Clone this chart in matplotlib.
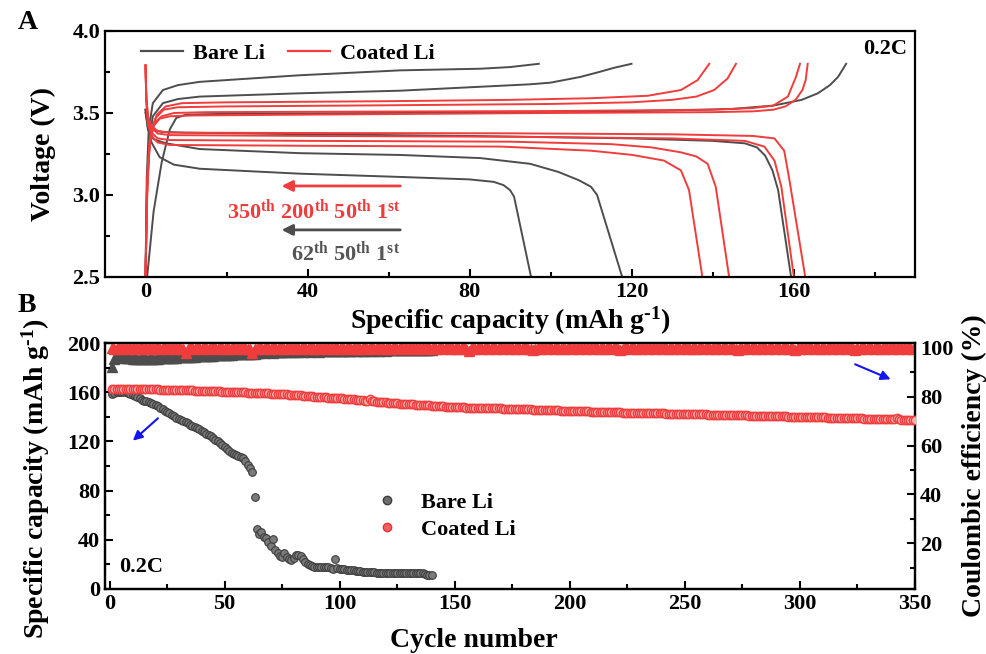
import numpy as np
import matplotlib

matplotlib.use("Agg")
import matplotlib.pyplot as plt
from matplotlib.lines import Line2D
from matplotlib.ticker import MultipleLocator

plt.rcParams["font.family"] = ["Liberation Serif", "DejaVu Serif"]
plt.rcParams["font.weight"] = "bold"
plt.rcParams["axes.labelweight"] = "bold"
plt.rcParams["mathtext.fontset"] = "custom"
plt.rcParams["mathtext.rm"] = "Liberation Serif:bold"
plt.rcParams["mathtext.bf"] = "Liberation Serif:bold"
plt.rcParams["mathtext.it"] = "Liberation Serif:italic:bold"

GRAY = "#4d4d4d"
RED = "#f03c3c"
BLUE = "#1414f0"

# ---- panel A: charge / discharge profiles, (capacity mAh/g, voltage V) ----
BARE_1_CHG = [(0.4, 2.5), (2.0, 2.9), (4.0, 3.2), (6.0, 3.40), (7.6, 3.47), (10, 3.49), (20, 3.495),
              (60, 3.50), (100, 3.505), (130, 3.515), (145, 3.525), (155, 3.545), (162, 3.58),
              (166, 3.62), (169, 3.67), (171, 3.72), (173, 3.8)]
BARE_1_DIS = [(0, 3.50), (0.5, 3.44), (1.5, 3.40), (4, 3.385), (10, 3.38), (40, 3.37), (80, 3.36),
              (120, 3.345), (140, 3.33), (148, 3.315), (151, 3.29), (153, 3.24), (154.8, 3.15),
              (156.2, 3.03), (159.4, 2.5)]
BARE_50_CHG = [(0, 2.5), (0.3, 3.0), (0.8, 3.3), (1.8, 3.48), (4.3, 3.56), (8, 3.585), (13.4, 3.60),
               (38, 3.62), (62.9, 3.636), (82.7, 3.66), (95, 3.675), (100, 3.685), (107.4, 3.72),
               (112, 3.75), (115.6, 3.775), (120, 3.8)]
BARE_50_DIS = [(0, 3.52), (0.6, 3.40), (2, 3.34), (5.1, 3.315), (13.4, 3.28), (38, 3.255),
               (62.9, 3.244), (82.7, 3.225), (95, 3.19), (102, 3.14), (107, 3.09), (110, 3.05),
               (111.5, 3.0), (117.7, 2.5)]
BARE_62_CHG = [(0, 2.5), (0.3, 3.1), (0.8, 3.4), (1.8, 3.56), (4.3, 3.64), (8, 3.67), (13.4, 3.69),
               (38, 3.73), (62.9, 3.76), (82.7, 3.77), (90, 3.78), (97.1, 3.8)]
BARE_62_DIS = [(0, 3.52), (0.5, 3.42), (1.5, 3.32), (3.5, 3.23), (7, 3.185), (13.4, 3.16),
               (38, 3.13), (62.9, 3.11), (80, 3.095), (86, 3.08), (88.4, 3.06), (90, 3.03),
               (91, 2.99), (95.2, 2.5)]

COAT_1_CHG = [(0, 2.5), (0.4, 3.0), (1.0, 3.3), (2.0, 3.42), (3.5, 3.465), (6, 3.48), (12, 3.485),
              (40, 3.49), (100, 3.50), (140, 3.505), (150, 3.51), (155, 3.52), (158, 3.54),
              (160.5, 3.58), (162.2, 3.64), (163, 3.7), (163.5, 3.8)]
COAT_50_CHG = [(0, 2.5), (0.4, 3.05), (1.0, 3.33), (2.2, 3.44), (4, 3.48), (7, 3.50), (15, 3.505),
               (50, 3.508), (100, 3.512), (140, 3.52), (150, 3.53), (155, 3.545), (158.6, 3.6),
               (160.6, 3.72), (161.6, 3.8)]
COAT_200_CHG = [(0, 2.5), (0.5, 3.1), (1.2, 3.36), (2.5, 3.47), (4.5, 3.52), (8, 3.535), (20, 3.54),
                (60, 3.547), (100, 3.555), (120, 3.565), (130, 3.58), (136, 3.60), (140.4, 3.64),
                (143.7, 3.71), (145.8, 3.8)]
COAT_350_CHG = [(0, 2.5), (0.5, 3.15), (1.3, 3.38), (2.8, 3.49), (5, 3.54), (9, 3.56), (20, 3.565),
                (60, 3.572), (90, 3.58), (110, 3.59), (124, 3.605), (132.2, 3.64), (136.3, 3.70),
                (139.2, 3.8)]
COAT_1_DIS = [(0, 3.79), (0.2, 3.6), (0.6, 3.48), (1.5, 3.42), (3, 3.39), (6, 3.38), (40, 3.378),
              (90, 3.376), (130, 3.37), (150, 3.36), (155.3, 3.345), (157.7, 3.27), (159, 3.09),
              (162.9, 2.5)]
COAT_50_DIS = [(0, 3.79), (0.2, 3.6), (0.6, 3.47), (1.5, 3.41), (3, 3.375), (6, 3.365), (40, 3.36),
               (90, 3.355), (130, 3.345), (148, 3.33), (152.8, 3.295), (155.3, 3.21), (157, 3.05),
               (160.1, 2.5)]
COAT_200_DIS = [(0, 3.79), (0.2, 3.58), (0.6, 3.45), (1.5, 3.38), (3, 3.345), (6, 3.335), (40, 3.33),
                (90, 3.325), (115, 3.31), (125, 3.29), (132.2, 3.26), (136, 3.235), (138.8, 3.19),
                (140.8, 3.05), (144.1, 2.5)]
COAT_350_DIS = [(0, 3.79), (0.2, 3.57), (0.6, 3.43), (1.5, 3.36), (3, 3.32), (6, 3.305), (40, 3.30),
                (88, 3.295), (110, 3.27), (120, 3.245), (128, 3.21), (132.2, 3.15), (134.2, 3.03),
                (137.5, 2.5)]

BARE_CURVES = [BARE_1_CHG, BARE_1_DIS, BARE_50_CHG, BARE_50_DIS, BARE_62_CHG, BARE_62_DIS]
COAT_CURVES = [COAT_1_CHG, COAT_50_CHG, COAT_200_CHG, COAT_350_CHG,
               COAT_1_DIS, COAT_50_DIS, COAT_200_DIS, COAT_350_DIS]

# ---- panel B: cycling, one value per cycle ----
bare_capacity = [
    158.5, 159.0, 160.0, 160.5, 160.5, 160.3, 160.0, 159.5, 158.8, 158.0,
    157.0, 156.0, 155.0, 154.0, 153.0, 152.5, 151.8, 151.0, 150.2, 149.5,
    148.4, 147.3, 146.2, 145.0, 143.8, 142.7, 141.5, 140.3, 139.2, 138.2,
    137.3, 136.4, 135.5, 134.6, 133.7, 132.8, 131.8, 130.8, 129.8, 128.8,
    127.6, 126.4, 125.2, 124.0, 122.7, 121.4, 120.0, 118.6, 117.2, 115.8,
    114.0, 112.0, 110.5, 109.5, 108.8, 108.2, 107.5, 106.5, 104.0, 101.0,
    98.0, 95.0, 74.5, 48.5, 45.0, 46.0, 42.0, 41.5, 38.0, 35.0,
    41.0, 32.0, 29.0, 27.0, 26.0, 29.0, 26.0, 24.5, 23.5, 25.0,
    28.0, 27.5, 26.5, 24.0, 22.0, 20.5, 19.5, 18.5, 18.0, 17.5,
    18.0, 18.0, 17.5, 18.0, 17.5, 17.0, 16.5, 24.5, 17.0, 16.0,
    16.5, 16.0, 15.8, 15.5, 15.5, 15.2, 15.0, 15.0, 14.5, 14.2,
    14.0, 14.0, 13.8, 13.5, 13.5, 13.3, 13.2, 13.0, 13.0, 13.2,
    13.0, 13.0, 12.8, 12.8, 13.0, 12.8, 12.8, 12.6, 13.0, 13.2,
    13.4, 13.0, 13.0, 13.2, 13.0, 12.8, 12.0, 11.5, 11.2, 11.0,
]
bare_ce = [
    92.3, 95.4, 96.2, 96.3, 96.2, 96.0, 95.9, 95.8, 95.7, 95.6, 95.6, 95.5, 95.5, 95.5, 95.4,
    95.4, 95.5, 95.5, 95.5, 95.6, 95.6, 95.7, 95.7, 95.8, 95.8, 95.9, 95.9, 96.0, 96.0, 96.1,
    96.1, 96.2, 96.2, 96.3, 96.3, 96.4, 96.4, 96.5, 96.5, 96.6, 96.6, 96.7, 96.7, 96.8, 96.8,
    96.9, 96.9, 97.0, 97.0, 97.1, 97.1, 97.2, 97.2, 97.3, 97.3, 97.4, 97.4, 97.5, 97.5, 97.6,
    97.6, 97.7, 97.5, 97.8, 98.0, 98.2, 98.0, 98.3, 98.2, 98.4, 98.1, 98.3, 98.5, 98.2, 98.4,
    98.5, 98.3, 98.6, 98.4, 98.5, 98.7, 98.4, 98.6, 98.5, 98.7, 98.6, 98.5, 98.8, 98.6, 98.7,
    98.5, 98.8, 98.6, 98.7, 98.9, 98.6, 98.8, 98.7, 98.9, 98.7, 98.8, 98.9, 98.7, 98.9, 98.8,
    99.0, 98.8, 98.9, 99.0, 98.8, 98.9, 99.0, 98.9, 99.0, 98.9, 99.1, 98.9, 99.0, 99.1, 98.9,
    99.0, 99.1, 99.0, 99.1, 99.0, 99.1, 99.0, 99.1, 99.0, 99.2, 99.1, 99.0, 99.2, 99.1, 99.2,
    99.1, 99.0, 99.2, 99.1, 99.2,
]
coated_capacity = [
    162.6, 162.8, 162.9, 162.9, 162.8, 162.8, 162.7, 162.7, 162.7, 162.6, 162.6, 162.6, 162.5,
    162.5, 162.5, 162.4, 162.4, 162.4, 162.3, 162.3, 162.3, 162.2, 162.2, 162.1, 162.1,
    162.0, 162.0, 161.9, 161.8, 161.8, 161.7, 161.6, 161.6, 161.5, 161.4, 161.4, 161.3, 161.2,
    161.2, 161.1, 161.0, 161.0, 160.9, 160.8, 160.8, 160.7, 160.6, 160.6, 160.5, 160.5,
    160.4, 160.3, 160.2, 160.2, 160.1, 160.0, 159.9, 159.8, 159.8, 159.7, 159.6, 159.5, 159.4,
    159.4, 159.3, 159.2, 159.1, 159.0, 159.0, 158.9, 158.8, 158.7, 158.6, 158.6, 158.5,
    158.4, 158.2, 158.1, 157.9, 157.8, 157.7, 157.5, 157.4, 157.2, 157.1, 157.0, 156.8, 156.7,
    156.5, 156.4, 156.3, 156.1, 156.0, 155.8, 155.7, 155.6, 155.4, 155.3, 155.1, 155.3,
    154.9, 154.7, 154.6, 154.4, 154.2, 154.1, 153.9, 153.7, 153.6, 153.4, 153.2, 153.1, 154.5,
    152.8, 152.6, 152.4, 152.3, 152.1, 151.9, 151.8, 151.6, 151.4, 151.3, 151.1, 150.9,
    150.8, 150.7, 150.6, 150.4, 150.3, 150.2, 150.1, 149.9, 149.8, 149.7, 149.6, 149.4, 149.3,
    149.2, 149.1, 148.9, 148.8, 148.7, 148.6, 148.4, 148.3, 148.2, 148.1, 147.9, 147.8,
    147.7, 147.7, 147.6, 147.6, 147.5, 147.5, 147.4, 147.4, 147.3, 147.3, 147.2, 147.2, 147.1,
    147.1, 147.0, 147.0, 146.9, 146.9, 146.8, 146.8, 146.7, 146.7, 146.6, 146.6, 146.5,
    146.4, 146.4, 146.3, 146.2, 146.2, 146.1, 146.0, 146.0, 145.9, 145.8, 145.8, 145.7, 145.6,
    145.6, 145.5, 145.4, 145.4, 145.3, 145.2, 145.2, 145.1, 145.0, 145.0, 144.9, 144.9,
    144.8, 144.7, 144.7, 144.6, 144.6, 144.5, 144.4, 144.4, 144.3, 144.3, 144.2, 144.1, 144.1,
    144.0, 144.0, 143.9, 143.8, 143.8, 143.7, 143.7, 143.6, 143.6, 143.5, 143.5, 143.4,
    143.4, 143.3, 143.3, 143.2, 143.2, 143.1, 143.1, 143.0, 143.0, 142.9, 142.9, 142.9, 142.8,
    142.8, 142.7, 142.7, 142.6, 142.6, 142.5, 142.5, 142.4, 142.4, 142.4, 142.3, 142.3,
    142.2, 142.2, 142.1, 142.1, 142.0, 142.0, 141.9, 141.9, 141.9, 141.8, 141.8, 141.7, 141.7,
    141.6, 141.6, 141.6, 141.5, 141.5, 141.4, 141.4, 141.3, 141.3, 141.3, 141.2, 141.2,
    141.1, 141.1, 141.0, 141.0, 140.9, 140.9, 140.8, 140.8, 140.8, 140.7, 140.7, 140.6, 140.6,
    140.5, 140.5, 140.4, 140.4, 140.3, 140.3, 140.2, 140.2, 140.1, 140.1, 140.0, 140.0,
    139.9, 139.9, 139.8, 139.8, 139.7, 139.7, 139.6, 139.6, 139.5, 139.5, 139.5, 139.4, 139.4,
    139.3, 139.3, 139.2, 139.2, 139.1, 139.1, 139.0, 139.0, 138.9, 138.9, 138.8, 138.8,
    138.7, 138.7, 138.6, 138.6, 138.5, 138.5, 138.4, 138.4, 138.3, 138.3, 138.2, 138.2, 138.1,
    138.1, 138.0, 138.0, 138.9, 137.9, 137.8, 137.8, 137.7, 137.7, 137.6, 137.6, 137.5,
]
coated_ce = [
    100.0, 99.6, 99.7, 99.8, 99.7, 99.8, 99.8, 99.7, 99.8, 99.8, 99.7, 99.8, 99.8, 99.8, 99.7,
    99.8, 99.8, 99.7, 99.8, 99.8, 99.8, 99.7, 99.8, 99.8, 99.7, 99.8, 99.8, 99.7, 99.8, 99.8,
    99.7, 99.6, 98.0, 99.6, 99.8, 99.8, 99.7, 99.8, 99.8, 99.7, 99.8, 99.8, 99.7, 99.8, 99.8,
    99.8, 99.7, 99.8, 99.8, 99.7, 99.8, 99.7, 99.8, 99.8, 99.7, 99.8, 99.8, 99.7, 99.8, 99.7,
    99.6, 97.9, 99.5, 99.7, 99.8, 99.8, 99.7, 99.8, 99.8, 99.7, 99.8, 99.8, 99.7, 99.8, 99.8,
    99.7, 99.8, 99.7, 99.8, 99.8, 99.6, 99.8, 99.7, 99.8, 99.8, 99.7, 99.8, 99.8, 99.7, 99.8,
    99.7, 99.8, 99.8, 99.7, 99.8, 99.8, 99.7, 99.8, 99.8, 99.6, 99.8, 99.7, 99.8, 99.8, 99.7,
    99.8, 99.5, 99.8, 99.7, 99.8, 99.8, 99.7, 99.8, 99.8, 99.7, 99.8, 99.8, 99.7, 99.8, 99.6,
    99.8, 99.7, 99.8, 99.8, 99.7, 99.8, 99.8, 99.7, 99.8, 99.8, 99.7, 99.8, 99.8, 99.7, 99.8,
    99.8, 99.7, 99.8, 99.8, 99.7, 99.8, 99.7, 99.8, 99.8, 99.7, 99.8, 99.8, 99.7, 99.8, 99.7,
    99.8, 99.7, 99.8, 99.8, 99.6, 98.9, 99.5, 99.8, 99.7, 99.8, 99.8, 99.7, 99.8, 99.8, 99.7,
    99.8, 99.8, 99.7, 99.8, 99.8, 99.7, 99.8, 99.8, 99.7, 99.8, 99.7, 99.8, 99.8, 99.7, 99.8,
    99.8, 99.7, 99.6, 99.1, 99.6, 99.8, 99.7, 99.8, 99.8, 99.7, 99.8, 99.8, 99.7, 99.8, 99.8,
    99.7, 99.8, 99.7, 99.8, 99.8, 99.7, 99.8, 99.8, 99.7, 99.8, 99.8, 99.7, 99.8, 99.8, 99.7,
    99.8, 99.8, 99.7, 99.8, 99.7, 99.8, 99.8, 99.7, 99.8, 99.8, 99.6, 99.1, 99.6, 99.8, 99.8,
    99.7, 99.8, 99.8, 99.7, 99.8, 99.7, 99.8, 99.8, 99.7, 99.8, 99.8, 99.7, 99.8, 99.8, 99.7,
    99.8, 99.8, 99.7, 99.8, 99.7, 99.8, 99.8, 99.7, 99.8, 99.8, 99.7, 99.8, 99.6, 99.8, 99.7,
    99.8, 99.8, 99.7, 99.8, 99.8, 99.7, 99.8, 99.7, 99.8, 99.8, 99.7, 99.8, 99.8, 99.7, 99.8,
    99.8, 99.7, 99.3, 99.8, 99.7, 99.8, 99.8, 99.7, 99.8, 99.8, 99.7, 99.8, 99.7, 99.8, 99.8,
    99.7, 99.8, 99.8, 99.7, 99.8, 99.8, 99.7, 99.8, 99.8, 99.7, 99.8, 99.7, 99.3, 99.8, 99.7,
    99.8, 99.8, 99.7, 99.8, 99.8, 99.7, 99.8, 99.8, 99.7, 99.8, 99.7, 99.8, 99.8, 99.7, 99.8,
    99.8, 99.7, 99.8, 99.8, 99.7, 99.8, 99.8, 99.7, 99.3, 99.8, 99.7, 99.8, 99.8, 99.7, 99.8,
    99.8, 99.7, 99.8, 99.8, 99.7, 99.8, 99.7, 99.8, 99.8, 99.7, 99.8, 99.8, 99.7, 99.8, 99.8,
    99.7, 99.8, 99.8, 99.7, 99.8,
]
bare_cycles = np.arange(1, len(bare_capacity) + 1)
coated_cycles = np.arange(1, len(coated_capacity) + 1)


def style_axis(ax, right=False):
    for sp in ax.spines.values():
        sp.set_linewidth(1.6)
    ax.tick_params(which="both", direction="in", width=1.5, labelsize=16)
    ax.tick_params(which="major", length=6)
    ax.tick_params(which="minor", length=3.5)
    ax.tick_params(top=False, right=right, left=not right)


fig = plt.figure(figsize=(9.86, 6.54), dpi=100)

# ---------------- panel A ----------------
axA = fig.add_axes([0.1065, 0.5765, 0.8215, 0.3761])
for curve in BARE_CURVES:
    cap, volt = zip(*curve)
    axA.plot(cap, volt, color=GRAY, lw=1.4)
for curve in COAT_CURVES:
    cap, volt = zip(*curve)
    axA.plot(cap, volt, color=RED, lw=1.4)
axA.set_xlim(-10, 190)
axA.set_ylim(2.5, 4.0)
axA.xaxis.set_major_locator(MultipleLocator(40))
axA.xaxis.set_minor_locator(MultipleLocator(20))
axA.yaxis.set_major_locator(MultipleLocator(0.5))
axA.yaxis.set_minor_locator(MultipleLocator(0.25))
style_axis(axA)
axA.set_xlabel("Specific capacity (mAh g$^{\u2010 1}$)", fontsize=20, labelpad=2)
axA.set_ylabel("Voltage (V)", fontsize=20, labelpad=12)

handlesA = [Line2D([], [], color=GRAY, lw=1.6), Line2D([], [], color=RED, lw=1.6)]
axA.legend(handlesA, ["Bare Li", "Coated Li"], loc="upper left", ncol=2, frameon=False,
           fontsize=16, handlelength=1.9, handletextpad=0.45, columnspacing=1.0,
           bbox_to_anchor=(0.02, 1.03))
axA.text(0.99, 0.925, "0.2C", transform=axA.transAxes, ha="right", va="center", fontsize=16)

arrow_kw = dict(arrowstyle="-|>", lw=2, mutation_scale=16, shrinkA=0, shrinkB=0)
axA.annotate("", xy=(33.6, 3.055), xytext=(62.9, 3.055), arrowprops=dict(color=RED, **arrow_kw))
axA.annotate("", xy=(33.6, 2.787), xytext=(62.9, 2.787), arrowprops=dict(color=GRAY, **arrow_kw))
axA.text(62.9, 2.90, r"350$^{\rm th}$ 200$^{\rm th}$ 50$^{\rm th}$ 1$^{\rm st}$", color=RED,
         ha="right", va="center", fontsize=16)
axA.text(62.9, 2.646, r"62$^{\rm th}$ 50$^{\rm th}$ 1$^{\rm st}$", color="#555555",
         ha="right", va="center", fontsize=16)

# ---------------- panel B ----------------
axB = fig.add_axes([0.1065, 0.0994, 0.8215, 0.3761])
axB.plot(bare_cycles, bare_capacity, ls="none", marker="o", ms=5.5, mfc="#7a7a7a",
         mec="#3e3e3e", mew=0.8, zorder=3)
axB.plot(coated_cycles, coated_capacity, ls="none", marker="o", ms=6.0, mfc="#f6b0b0",
         mec="#f03c3c", mew=1.0, zorder=3)
axB.set_xlim(-2, 350)
axB.set_ylim(0, 200)
axB.xaxis.set_major_locator(MultipleLocator(50))
axB.xaxis.set_minor_locator(MultipleLocator(25))
axB.yaxis.set_major_locator(MultipleLocator(40))
axB.yaxis.set_minor_locator(MultipleLocator(20))
style_axis(axB)
axB.set_xlabel("Cycle number", fontsize=20, labelpad=0)
axB.xaxis.set_label_coords(0.456, -0.16)
axB.set_ylabel("Specific capacity (mAh g$^{\u2010 1}$)", fontsize=20)
axB.yaxis.set_label_coords(-0.065, 0.45)

ax2 = axB.twinx()
ax2.plot(bare_cycles, bare_ce, ls="none", marker="^", ms=6.5, color=GRAY, zorder=2)
ax2.plot(coated_cycles, coated_ce, ls="none", marker="^", ms=6.5, color=RED, zorder=3)
ax2.set_ylim(1.2, 102)
ax2.yaxis.set_minor_locator(MultipleLocator(10))
ax2.set_yticks([20, 40, 60, 80, 100])
style_axis(ax2, right=True)
ax2.tick_params(labelleft=False, labelright=True)
ax2.set_ylabel("Coulombic efficiency (%)", fontsize=20, labelpad=6)
axB.set_zorder(ax2.get_zorder() + 1)
axB.patch.set_visible(False)

handlesB = [Line2D([], [], ls="none", marker="o", ms=6, mfc="#6e6e6e", mec="#3e3e3e"),
            Line2D([], [], ls="none", marker="o", ms=6, mfc="#f06060", mec="#e83030")]
axB.legend(handlesB, ["Bare Li", "Coated Li"], loc="upper left", frameon=False, fontsize=16,
           handlelength=1.0, handletextpad=1.0, labelspacing=0.3,
           bbox_to_anchor=(0.31, 0.475))
axB.text(0.018, 0.09, "0.2C", transform=axB.transAxes, ha="left", va="center", fontsize=16)

blue_kw = dict(arrowstyle="-|>", color=BLUE, lw=1.5, mutation_scale=14, shrinkA=0, shrinkB=0)
axB.annotate("", xy=(10.1, 120.6), xytext=(21, 138.8), arrowprops=blue_kw)
axB.annotate("", xy=(339.4, 170.5), xytext=(324, 182.7), arrowprops=blue_kw)

fig.text(0.018, 0.965, "A", fontsize=20, va="center")
fig.text(0.018, 0.533, "B", fontsize=20, va="center")

fig.savefig("out.png", dpi=100)
